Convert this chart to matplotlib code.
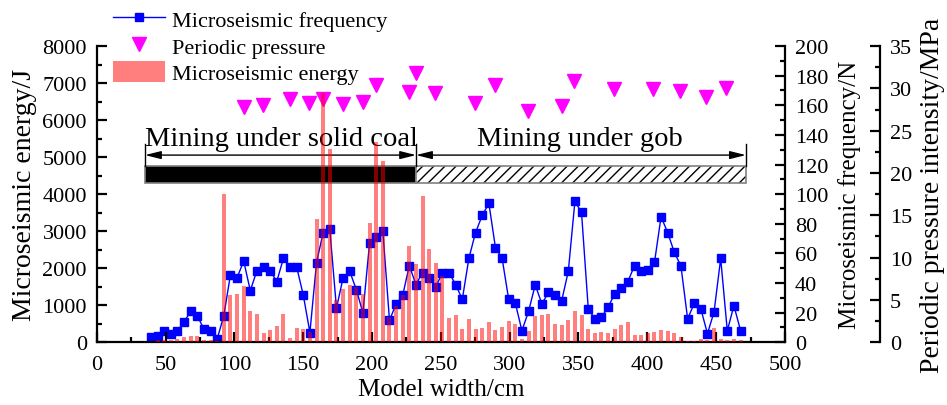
import matplotlib
matplotlib.use('Agg')
import matplotlib.pyplot as plt
from matplotlib.patches import Rectangle
from matplotlib.ticker import MultipleLocator

plt.rcParams['font.family'] = 'Liberation Serif'
plt.rcParams['font.size'] = 16

# posizioni lungo il modello (cm), comuni a barre e frequenza
model_x = [39.4, 44.2, 49.0, 53.8, 58.7, 63.5, 68.3, 73.1, 77.9, 82.7,
           87.5, 92.3, 97.2, 102.0, 106.8, 111.6, 116.4, 121.2, 126.0, 130.8,
           135.7, 140.5, 145.3, 150.1, 154.9, 159.7, 164.5, 169.3, 174.2, 179.0,
           183.8, 188.6, 193.4, 198.2, 203.0, 207.9, 212.7, 217.5, 222.3, 227.1,
           231.9, 236.7, 241.5, 246.4, 251.2, 256.0, 260.8, 265.6, 270.4, 275.2,
           280.1, 284.9, 289.7, 294.5, 299.3, 304.1, 308.9, 313.7, 318.6, 323.4,
           328.2, 333.0, 337.8, 342.6, 347.4, 352.2, 357.1, 361.9, 366.7, 371.5,
           376.3, 381.1, 385.9, 390.7, 395.6, 400.4, 405.2, 410.0, 414.8, 419.6,
           424.4, 429.3, 434.1, 438.9, 443.7, 448.5, 453.3, 458.1, 462.9, 467.8]

frequency = [3.4, 4.5, 7.4, 5.6, 7.8, 13.7, 21.0, 18.0, 8.8, 7.8,
             2.2, 17.8, 45.7, 43.7, 54.8, 34.9, 48.4, 50.7, 48.4, 41.0,
             56.8, 50.7, 50.7, 31.8, 6.6, 53.8, 74.0, 76.7, 23.0, 43.6,
             47.9, 35.6, 19.8, 66.7, 70.8, 74.8, 14.9, 25.8, 31.7, 51.8,
             39.0, 47.1, 43.6, 37.6, 47.0, 47.1, 38.8, 29.0, 56.8, 74.0,
             85.7, 93.8, 63.8, 56.8, 29.0, 26.6, 7.8, 20.8, 38.8, 25.9,
             33.7, 31.7, 28.1, 47.9, 95.1, 87.7, 22.7, 15.8, 16.9, 23.7,
             32.7, 36.7, 41.0, 51.8, 47.8, 48.6, 53.9, 84.8, 74.0, 60.8,
             51.6, 15.8, 26.3, 22.5, 5.8, 20.6, 56.6, 7.8, 24.7, 7.8]

energy = [20, 50, 60, 62, 90, 150, 170, 170, 62, 62,
          27, 4010, 1290, 1310, 1520, 850, 770, 250, 330, 445,
          766, 120, 385, 360, 290, 3340, 6720, 5210, 1130, 1440,
          1550, 1490, 1300, 3220, 5410, 4890, 680, 990, 1270, 2600,
          2110, 3945, 2525, 2130, 1800, 657, 739, 360, 630, 360,
          387, 541, 333, 423, 577, 495, 90, 306, 720, 739,
          766, 495, 468, 603, 847, 739, 360, 252, 285, 252,
          360, 468, 545, 198, 198, 250, 279, 333, 306, 252,
          144, 36, 36, 90, 63, 387, 90, 63, 90, 63]

# pressione periodica
press_x = [107.2, 121.0, 140.4, 154.4, 164.6, 179.1, 193.2, 202.9, 227.1, 231.9, 246.1,
           274.8, 289.3, 313.5, 337.8, 346.9, 376.0, 404.3, 423.7, 442.6, 457.1]
press_val = [27.8, 28.0, 28.7, 28.3, 28.8, 28.1, 28.4, 30.4, 29.6, 31.8, 29.5,
             28.3, 30.4, 27.3, 27.9, 30.9, 29.9, 29.9, 29.7, 29.0, 30.0]

# zone di scavo
solid_start, boundary, gob_end = 35.1, 232.0, 471.6

fig = plt.figure(figsize=(9.47, 4.06), dpi=100)
ax = fig.add_axes([0.1021, 0.1544, 0.7268, 0.7298])
ax2 = ax.twinx()
ax3 = ax.twinx()
ax.set_zorder(3)
ax.patch.set_visible(False)
ax2.set_zorder(1)
ax3.set_zorder(2)
ax3.patch.set_visible(False)

bars = ax.bar(model_x, energy, width=2.9, color='red', alpha=0.5, linewidth=0,
              zorder=5, label='Microseismic energy')
line, = ax2.plot(model_x, frequency, color='blue', lw=1, marker='s', ms=5.8,
                 label='Microseismic frequency')
tri, = ax3.plot(press_x, press_val, 'v', color='magenta', ms=9.5, ls='none',
                label='Periodic pressure')

ax.set_xlim(0, 500)
ax.set_ylim(0, 8000)
ax2.set_ylim(0, 200)
ax3.set_ylim(0, 35)

ax.spines['top'].set_visible(False)
ax.spines['right'].set_visible(False)
for a in (ax2, ax3):
    for s in ('top', 'left', 'bottom'):
        a.spines[s].set_visible(False)
ax3.spines['right'].set_position(('axes', 1.138))
for a in (ax, ax2, ax3):
    for s in a.spines.values():
        s.set_linewidth(1.6)

ax.xaxis.set_major_locator(MultipleLocator(50))
ax.xaxis.set_minor_locator(MultipleLocator(25))
ax.yaxis.set_major_locator(MultipleLocator(1000))
ax.yaxis.set_minor_locator(MultipleLocator(500))
ax2.yaxis.set_major_locator(MultipleLocator(20))
ax2.yaxis.set_minor_locator(MultipleLocator(10))
ax3.yaxis.set_major_locator(MultipleLocator(5))
ax3.yaxis.set_minor_locator(MultipleLocator(2.5))

for a in (ax, ax2, ax3):
    a.tick_params(which='major', direction='in', length=7, width=1.6, labelsize=16, pad=7)
    a.tick_params(which='minor', direction='in', length=3.5, width=1.6)
ax.tick_params(axis='x', which='both', top=False, pad=9)
ax.tick_params(axis='y', which='both', right=False)

ax.set_xlabel('Model width/cm', fontsize=18, labelpad=3)
ax.set_ylabel('Microseismic energy/J', fontsize=20, labelpad=4)
ax2.set_ylabel('Microseismic frequency/N', fontsize=18, labelpad=7)
ax3.set_ylabel('Periodic pressure intensity/MPa', fontsize=20, labelpad=6)

# barre delle zone
ax.add_patch(Rectangle((solid_start, 4311), boundary - solid_start, 452,
                       facecolor='black', edgecolor='#808080', lw=1.2, zorder=2))
ax.add_patch(Rectangle((boundary, 4311), gob_end - boundary, 452,
                       facecolor='white', edgecolor='black', hatch='///', lw=0, zorder=2))
ax.add_patch(Rectangle((boundary, 4311), gob_end - boundary, 452,
                       facecolor='none', edgecolor='#808080', lw=1.2, zorder=2))
for xv in (solid_start, boundary, gob_end):
    ax.plot([xv, xv], [4763, 5360], color='black', lw=1, zorder=2)
arrow_style = dict(arrowstyle='<|-|>,head_length=0.8,head_width=0.2', color='black',
                   lw=1, shrinkA=0, shrinkB=0, mutation_scale=12)
ax.annotate('', xy=(solid_start, 5055), xytext=(boundary, 5055), arrowprops=arrow_style, zorder=2)
ax.annotate('', xy=(boundary, 5055), xytext=(gob_end, 5055), arrowprops=arrow_style, zorder=2)
ax.text((solid_start + boundary) / 2 + 0.6, 5339, 'Mining under solid coal', ha='center',
        va='baseline', fontsize=20.5, zorder=2)
ax.text(351.1, 5339, 'Mining under gob', ha='center', va='baseline', fontsize=20.5, zorder=2)

fig.legend([line, tri, bars], ['Microseismic frequency', 'Periodic pressure', 'Microseismic energy'],
           loc='upper left', bbox_to_anchor=(0.1193, 0.978), frameon=False, borderpad=0,
           borderaxespad=0, handlelength=2.35, handletextpad=0.3, labelspacing=0.15,
           handleheight=1.1, fontsize=16)

fig.savefig('out.png', dpi=100)
